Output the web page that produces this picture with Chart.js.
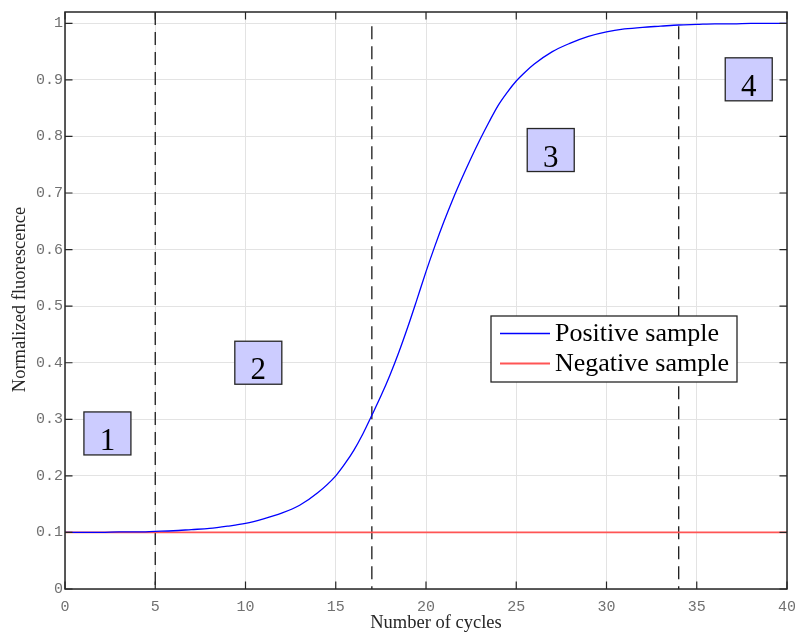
<!DOCTYPE html>
<html>
<head>
<meta charset="utf-8">
<title>Normalized fluorescence</title>
<script src="https://cdn.jsdelivr.net/npm/chart.js@4.4.1/dist/chart.umd.min.js"></script>
<style>
  html, body { margin: 0; padding: 0; background: #fff; }
  canvas { display: block; }
</style>
</head>
<body>
<canvas id="qpcrChart" width="795" height="635"></canvas>
<script>
// values (denser where the curve is steep)
const cycles = [0, 1, 2, 3, 4, 5, 6, 7, 8, 9, 10, 11, 12, 13, 14, 15, 15.5, 16, 16.5, 17, 17.5,
    18, 18.5, 19, 19.5, 20, 20.5, 21, 21.5, 22, 22.5, 23, 23.5, 24, 24.5, 25, 25.5,
    26, 27, 28, 29, 30, 31, 32, 33, 34, 35, 36, 37, 38, 39, 40];
const positiveSample = [0.100, 0.100, 0.100, 0.101, 0.101, 0.102, 0.103, 0.105, 0.107, 0.111, 0.116,
    0.124, 0.134, 0.148, 0.170, 0.200, 0.221, 0.245, 0.274, 0.307, 0.341,
    0.378, 0.419, 0.464, 0.512, 0.561, 0.607, 0.650, 0.690, 0.727, 0.762,
    0.795, 0.826, 0.855, 0.878, 0.898, 0.914,
    0.928, 0.950, 0.965, 0.977, 0.985, 0.990, 0.993, 0.995, 0.997, 0.998,
    0.999, 0.999, 1.000, 1.000, 1.000];
const negativeCycles = [0, 5, 10, 15, 20, 25, 30, 35, 40];
const negativeSample = [0.1, 0.1, 0.1, 0.1, 0.1, 0.1, 0.1, 0.1, 0.1];
const xTicks = [0, 5, 10, 15, 20, 25, 30, 35, 40];
const yTicks = [0, 0.1, 0.2, 0.3, 0.4, 0.5, 0.6, 0.7, 0.8, 0.9, 1];

// phase boundaries (dashed) and phase labels
const phaseLines = [5, 17, 34];
const phaseLineTops = [1.02, 0.995, 0.995];
const phaseLabels = ['1', '2', '3', '4'];
const phaseLabelX = [2.35, 10.71, 26.91, 37.88];
const phaseLabelY = [0.275, 0.400, 0.776, 0.901];

const serif = "'Liberation Serif', 'Times New Roman', serif";
const mono = "'Liberation Mono', 'Courier New', monospace";

const toPoints = (xs, ys) => xs.map((x, i) => ({ x: x, y: ys[i] }));

const datasets = [
    {
        label: 'Positive sample',
        data: toPoints(cycles, positiveSample),
        borderColor: '#0000ff',
        borderWidth: 1.3,
        pointRadius: 0,
        cubicInterpolationMode: 'monotone'
    },
    {
        label: 'Negative sample',
        data: toPoints(negativeCycles, negativeSample),
        borderColor: '#ff5555',
        borderWidth: 1.8,
        pointRadius: 0
    }
];
phaseLines.forEach((c, i) => {
    datasets.push({
        label: '',
        data: [{ x: c, y: phaseLineTops[i] }, { x: c, y: 0 }],
        borderColor: '#1a1a1a',
        borderWidth: 1.3,
        borderDash: [13, 7],
        pointRadius: 0
    });
});

// axes box, inward ticks, legend, labels and axis titles
const decorations = {
    id: 'decorations',
    afterDatasetsDraw(chart) {
        const { ctx, chartArea: a, scales: { x, y } } = chart;
        ctx.save();

        // phase label boxes
        phaseLabels.forEach((t, i) => {
            const cx = x.getPixelForValue(phaseLabelX[i]);
            const cy = y.getPixelForValue(phaseLabelY[i]);
            const w = 47, h = 43;
            ctx.fillStyle = '#ccccff';
            ctx.fillRect(cx - w / 2, cy - h / 2, w, h);
            ctx.strokeStyle = '#262626';
            ctx.lineWidth = 1.3;
            ctx.strokeRect(cx - w / 2, cy - h / 2, w, h);
            ctx.fillStyle = '#000';
            ctx.font = '31px ' + serif;
            ctx.textAlign = 'center';
            ctx.textBaseline = 'alphabetic';
            ctx.fillText(t, cx, cy + h / 2 - 5);
        });

        // legend
        const lx = a.left + 426, ly = a.top + 304, lw = 246, lh = 66;
        ctx.fillStyle = '#fff';
        ctx.fillRect(lx, ly, lw, lh);
        ctx.strokeStyle = '#262626';
        ctx.lineWidth = 1.3;
        ctx.strokeRect(lx, ly, lw, lh);
        chart.data.datasets.slice(0, 2).forEach((ds, i) => {
            const rowY = ly + 17.5 + i * 30;
            ctx.strokeStyle = ds.borderColor;
            ctx.lineWidth = ds.borderWidth;
            ctx.beginPath();
            ctx.moveTo(lx + 9, rowY);
            ctx.lineTo(lx + 59, rowY);
            ctx.stroke();
            ctx.fillStyle = '#000';
            ctx.font = '26px ' + serif;
            ctx.textAlign = 'left';
            ctx.textBaseline = 'alphabetic';
            ctx.fillText(ds.label, lx + 64, rowY + 7);
        });

        // axes box and inward ticks
        ctx.strokeStyle = '#262626';
        ctx.lineWidth = 1.5;
        ctx.strokeRect(a.left, a.top, a.right - a.left, a.bottom - a.top);
        ctx.lineWidth = 1.2;
        ctx.beginPath();
        xTicks.forEach(v => {
            const px = x.getPixelForValue(v);
            ctx.moveTo(px, a.bottom); ctx.lineTo(px, a.bottom - 7.5);
            ctx.moveTo(px, a.top); ctx.lineTo(px, a.top + 7.5);
        });
        yTicks.forEach(v => {
            const py = y.getPixelForValue(v);
            ctx.moveTo(a.left, py); ctx.lineTo(a.left + 7.5, py);
            ctx.moveTo(a.right, py); ctx.lineTo(a.right - 7.5, py);
        });
        ctx.stroke();

        // axis titles
        ctx.fillStyle = '#262626';
        ctx.font = '18.5px ' + serif;
        ctx.textAlign = 'center';
        ctx.textBaseline = 'alphabetic';
        ctx.fillText('Number of cycles', (a.left + a.right) / 2 + 10, 627.5);
        ctx.translate(25, (a.top + a.bottom) / 2 - 1);
        ctx.rotate(-Math.PI / 2);
        ctx.fillText('Normalized fluorescence', 0, 0);

        ctx.restore();
    }
};

const ctx = document.getElementById('qpcrChart').getContext('2d');
new Chart(ctx, {
    type: 'line',
    data: { datasets: datasets },
    options: {
        responsive: false,
        animation: false,
        devicePixelRatio: 1,
        layout: { padding: { top: 12, right: 8, left: 0, bottom: 0 } },
        plugins: {
            legend: { display: false },
            tooltip: { enabled: false }
        },
        scales: {
            x: {
                type: 'linear',
                min: 0,
                max: 40,
                afterBuildTicks: s => { s.ticks = xTicks.map(v => ({ value: v })); },
                afterFit: s => { s.height = 46; s.paddingLeft = 0; s.paddingRight = 0; },
                grid: { color: '#e3e3e3', lineWidth: 1, drawTicks: false },
                border: { display: false },
                ticks: {
                    padding: 9,
                    color: '#707070',
                    font: { family: mono, size: 15 },
                    maxRotation: 0,
                    callback: v => String(v)
                }
            },
            y: {
                type: 'linear',
                min: 0,
                max: 1.02,
                afterBuildTicks: s => { s.ticks = yTicks.map(v => ({ value: v })); },
                afterFit: s => { s.width = 65; s.paddingTop = 0; s.paddingBottom = 0; },
                grid: { color: '#e3e3e3', lineWidth: 1, drawTicks: false },
                border: { display: false },
                ticks: {
                    padding: 2,
                    color: '#707070',
                    font: { family: mono, size: 15 },
                    callback: v => String(Math.round(v * 10) / 10)
                }
            }
        }
    },
    plugins: [decorations]
});
</script>
</body>
</html>
